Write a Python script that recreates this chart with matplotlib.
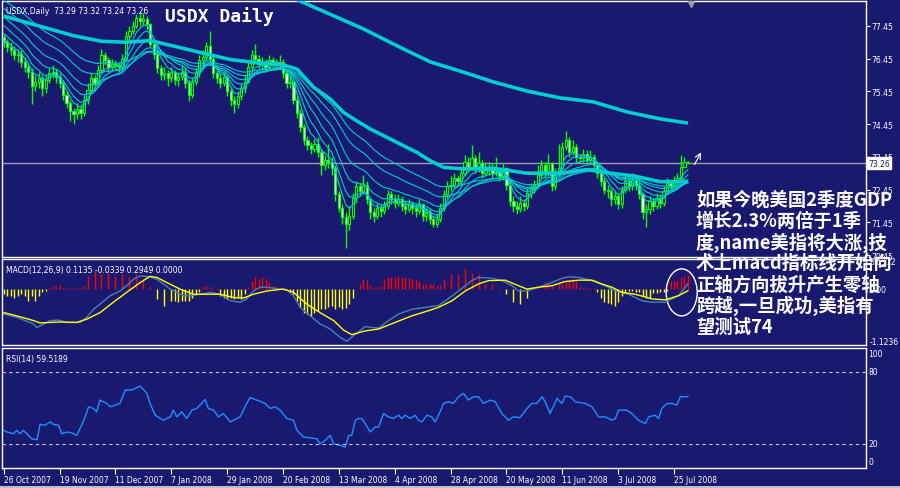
import numpy as np
import matplotlib
matplotlib.use("Agg")
import matplotlib.pyplot as plt
from matplotlib.patches import Ellipse, Rectangle

# ==========================================
# 1. 数据 (USDX 日线, 26 Oct 2007 .. 31 Jul 2008)
# ==========================================
opens = [
    77.10, 76.95, 76.80, 76.70, 76.55, 76.60, 76.35, 76.20, 76.05, 75.60,
    75.75, 75.85, 75.55, 75.80, 76.00, 76.05, 75.90, 75.70, 75.35, 75.10,
    74.85, 74.75, 74.90, 74.80, 75.20, 75.50, 75.85, 75.70, 76.10, 76.55,
    76.40, 76.20, 76.30, 76.25, 76.20, 76.45, 77.15, 77.30, 77.45, 77.70,
    77.60, 77.65, 77.50, 76.90, 76.60, 76.15, 75.95, 76.00, 75.85, 76.05,
    75.80, 75.90, 76.05, 75.70, 75.35, 75.75, 76.00, 76.40, 76.50, 76.85,
    76.45, 76.00, 75.85, 75.70, 75.90, 75.45, 75.20, 75.05, 75.30, 75.55,
    75.75, 76.20, 76.55, 76.45, 76.30, 76.35, 76.20, 76.40, 76.30, 76.25,
    76.35, 76.00, 75.70, 75.75, 75.20, 74.80, 74.35, 73.95, 73.80, 73.70,
    73.85, 73.60, 73.20, 73.35, 73.30, 73.10, 72.30, 71.90, 71.60, 71.40,
    71.65, 72.20, 72.55, 72.40, 72.60, 72.15, 71.75, 71.65, 71.90, 71.80,
    71.95, 72.30, 72.15, 72.05, 72.15, 71.95, 71.85, 72.00, 71.90, 71.80,
    72.00, 71.65, 71.75, 71.55, 71.40, 71.55, 71.90, 72.30, 72.55, 72.60,
    72.80, 72.70, 72.95, 73.30, 73.15, 73.40, 73.10, 73.25, 72.95, 73.05,
    73.15, 72.95, 73.00, 72.85, 73.10, 72.60, 72.10, 71.95, 71.85, 72.05,
    71.95, 72.35, 72.50, 72.60, 72.90, 73.20, 72.95, 73.25, 72.55, 72.95,
    73.10, 73.75, 73.95, 73.60, 73.75, 73.45, 73.40, 73.55, 73.35, 73.45,
    73.20, 72.95, 72.70, 72.45, 72.40, 72.15, 72.25, 72.00, 72.45, 72.70,
    72.55, 72.75, 72.60, 72.30, 71.75, 71.85, 72.10, 71.95, 72.20, 72.05,
    72.40, 72.65, 72.55, 72.70, 72.80, 73.15, 73.29,
]
highs = [
    77.20, 77.05, 76.95, 76.85, 76.75, 76.70, 76.50, 76.30, 76.15, 75.95,
    76.05, 75.95, 75.95, 76.15, 76.25, 76.15, 76.00, 75.80, 75.45, 75.20,
    74.95, 75.10, 75.05, 75.35, 75.70, 76.00, 75.95, 76.25, 76.75, 76.65,
    76.50, 76.45, 76.40, 76.35, 76.60, 77.30, 77.45, 77.60, 77.80, 77.80,
    77.85, 77.75, 77.55, 77.00, 76.70, 76.25, 76.20, 76.10, 76.20, 76.10,
    76.05, 76.25, 76.15, 75.80, 75.90, 76.15, 76.55, 76.70, 76.95, 77.30,
    76.55, 76.10, 76.00, 76.05, 75.95, 75.55, 75.30, 75.45, 75.70, 75.95,
    76.35, 76.70, 76.90, 76.55, 76.50, 76.45, 76.55, 76.50, 76.45, 76.55,
    76.45, 76.10, 75.95, 75.80, 75.30, 74.90, 74.45, 74.10, 73.90, 74.00,
    74.05, 73.70, 73.50, 73.85, 73.45, 73.20, 72.40, 72.00, 71.75, 71.95,
    72.35, 72.70, 72.65, 72.90, 72.70, 72.20, 71.90, 72.05, 72.00, 72.10,
    72.45, 72.40, 72.30, 72.30, 72.25, 72.10, 72.15, 72.10, 72.00, 72.15,
    72.05, 71.90, 71.85, 71.65, 71.70, 72.05, 72.45, 72.70, 72.85, 72.95,
    72.90, 73.10, 73.50, 73.45, 73.80, 73.50, 73.60, 73.35, 73.25, 73.30,
    73.25, 73.45, 73.10, 73.25, 73.15, 72.70, 72.25, 72.10, 72.25, 72.15,
    72.50, 72.65, 72.75, 73.20, 73.35, 73.30, 73.55, 73.30, 73.10, 73.85,
    73.90, 74.25, 74.05, 73.95, 73.85, 73.55, 73.70, 73.65, 73.65, 73.55,
    73.25, 73.00, 72.80, 72.60, 72.50, 72.40, 72.35, 72.55, 72.85, 72.80,
    72.95, 72.85, 72.70, 72.35, 72.00, 72.25, 72.20, 72.35, 72.30, 72.55,
    72.80, 72.75, 72.85, 72.95, 73.50, 73.45, 73.32,
]
lows = [
    76.80, 76.65, 76.55, 76.40, 76.35, 76.20, 76.05, 75.85, 75.05, 75.45,
    75.55, 75.30, 75.40, 75.70, 75.85, 75.70, 75.55, 75.20, 74.95, 74.55,
    74.45, 74.60, 74.60, 74.70, 75.05, 75.40, 75.50, 75.60, 76.00, 76.25,
    76.05, 76.10, 76.10, 76.05, 76.10, 76.40, 77.00, 77.20, 77.40, 77.45,
    77.45, 77.35, 76.80, 76.45, 76.00, 75.80, 75.80, 75.60, 75.75, 75.65,
    75.60, 75.80, 75.55, 75.15, 75.25, 75.65, 75.90, 76.25, 76.40, 76.30,
    75.85, 75.70, 75.55, 75.60, 75.30, 75.00, 74.80, 74.95, 75.20, 75.40,
    75.70, 76.10, 76.30, 76.15, 76.20, 76.05, 76.10, 76.15, 76.10, 76.15,
    75.85, 75.55, 75.55, 75.05, 74.65, 74.20, 73.80, 73.65, 73.55, 73.60,
    73.45, 72.90, 73.05, 73.10, 72.90, 72.10, 71.75, 71.40, 70.65, 71.20,
    71.55, 72.05, 72.25, 72.30, 72.00, 71.55, 71.45, 71.55, 71.60, 71.70,
    71.85, 72.00, 71.90, 71.95, 71.80, 71.70, 71.75, 71.70, 71.60, 71.70,
    71.50, 71.50, 71.40, 71.30, 71.30, 71.45, 71.80, 72.20, 72.40, 72.50,
    72.55, 72.60, 72.85, 73.00, 73.05, 72.95, 73.00, 72.80, 72.85, 72.90,
    72.80, 72.85, 72.70, 72.75, 72.45, 71.95, 71.75, 71.70, 71.75, 71.80,
    71.85, 72.20, 72.35, 72.50, 72.80, 72.80, 72.85, 72.40, 72.45, 72.85,
    73.00, 73.65, 73.45, 73.50, 73.30, 73.25, 73.30, 73.20, 73.25, 73.05,
    72.80, 72.55, 72.30, 72.20, 71.95, 72.00, 71.85, 71.90, 72.35, 72.40,
    72.45, 72.45, 72.15, 71.55, 71.30, 71.70, 71.80, 71.85, 71.90, 71.95,
    72.30, 72.40, 72.50, 72.60, 72.70, 73.10, 73.24,
]
closes = [
    76.95, 76.80, 76.70, 76.55, 76.60, 76.35, 76.20, 76.05, 75.60, 75.75,
    75.85, 75.55, 75.80, 76.00, 76.05, 75.90, 75.70, 75.35, 75.10, 74.85,
    74.75, 74.90, 74.80, 75.20, 75.50, 75.85, 75.70, 76.10, 76.55, 76.40,
    76.20, 76.30, 76.25, 76.20, 76.45, 77.15, 77.30, 77.45, 77.70, 77.60,
    77.65, 77.50, 76.90, 76.60, 76.15, 75.95, 76.00, 75.85, 76.05, 75.80,
    75.90, 76.05, 75.70, 75.35, 75.75, 76.00, 76.40, 76.50, 76.85, 76.45,
    76.00, 75.85, 75.70, 75.90, 75.45, 75.20, 75.05, 75.30, 75.55, 75.75,
    76.20, 76.55, 76.45, 76.30, 76.35, 76.20, 76.40, 76.30, 76.25, 76.35,
    76.00, 75.70, 75.75, 75.20, 74.80, 74.35, 73.95, 73.80, 73.70, 73.85,
    73.60, 73.20, 73.35, 73.30, 73.10, 72.30, 71.90, 71.60, 71.40, 71.65,
    72.20, 72.55, 72.40, 72.60, 72.15, 71.75, 71.65, 71.90, 71.80, 71.95,
    72.30, 72.15, 72.05, 72.15, 71.95, 71.85, 72.00, 71.90, 71.80, 72.00,
    71.65, 71.75, 71.55, 71.40, 71.55, 71.90, 72.30, 72.55, 72.60, 72.80,
    72.70, 72.95, 73.30, 73.15, 73.40, 73.10, 73.25, 72.95, 73.05, 73.15,
    72.95, 73.00, 72.85, 73.10, 72.60, 72.10, 71.95, 71.85, 72.05, 71.95,
    72.35, 72.50, 72.60, 72.90, 73.20, 72.95, 73.25, 72.55, 72.95, 73.10,
    73.75, 73.95, 73.60, 73.75, 73.45, 73.40, 73.55, 73.35, 73.45, 73.20,
    72.95, 72.70, 72.45, 72.40, 72.15, 72.25, 72.00, 72.45, 72.70, 72.55,
    72.75, 72.60, 72.30, 71.75, 71.85, 72.10, 71.95, 72.20, 72.05, 72.40,
    72.65, 72.55, 72.70, 72.80, 73.15, 73.30, 73.26,
]

# 均线带: EMA 周期 + 左侧起点 (从图左缘读出)
ema_periods = [5, 8, 13, 20, 30, 40]
ema_seeds = [77.05, 77.30, 77.55, 77.80, 78.05, 78.30]

# 两条粗均线 (按图取样)
mab_bar = [0, 10, 20, 28, 35, 42, 50, 57, 65, 72, 79, 84, 88.7, 93.5, 97.3, 101.1,
           105.0, 109.7, 114.5, 118.3, 122.2, 126.0, 131.7, 140.3, 149.9, 159.4,
           167.0, 173.7, 180.4, 188.0, 196.0]
mab_val = [77.75, 77.45, 77.15, 76.98, 76.95, 77.00, 76.80, 76.62, 76.42, 76.33,
           76.29, 76.13, 75.58, 75.22, 74.81, 74.55, 74.30, 74.05, 73.79, 73.59,
           73.33, 73.13, 73.08, 73.10, 72.95, 72.95, 73.06, 72.95, 72.87, 72.69, 72.70]
ma200_bar = [80, 85.5, 103.0, 114.4, 122.2, 131.6, 140.2, 149.9, 159.4, 168.8, 178.6, 188.0, 196.0]
ma200_val = [78.44, 78.18, 77.36, 76.75, 76.35, 76.04, 75.74, 75.46, 75.25, 75.13, 74.82, 74.61, 74.48]

last_price = 73.26
price_ticks = [70.45, 71.45, 72.45, 73.45, 74.45, 75.45, 76.45, 77.45]

# MACD(12,26,9)
macd_hist = [
    -0.11, -0.14, -0.14, -0.18, -0.14, -0.11, -0.14, -0.25, -0.14, -0.25,
    -0.14, -0.07, -0.04, 0.02, 0.06, 0.07, 0.09, 0.03, 0.02, 0.02,
    0.02, 0.02, 0.03, 0.06, 0.28, 0, 0.39, 0, 0.32, 0,
    0.35, 0, 0.28, 0, 0.32, 0, 0.25, 0, 0.32, 0,
    0.21, 0, 0.07, 0, -0.21, 0, -0.35, 0, -0.25, -0.25,
    -0.28, -0.25, -0.25, -0.25, -0.18, -0.11, -0.07, 0.07, 0.06, 0.04,
    0.02, 0.02, -0.14, -0.18, -0.21, -0.18, -0.21, -0.18, -0.21, -0.11,
    0.04, 0.18, 0.25, 0.21, 0.25, 0.21, 0.14, 0.07, 0.07, 0.02,
    0.02, 0.02, -0.07, -0.11, -0.25, -0.39, -0.50, -0.53, -0.57, -0.50,
    -0.46, -0.43, -0.43, -0.39, -0.35, -0.43, -0.39, -0.43, -0.40, -0.32,
    -0.18, 0, 0.11, 0.21, 0.19, 0.09, 0.05, 0.04, 0.07, 0.21,
    0.25, 0.26, 0.26, 0.28, 0.25, 0.23, 0.23, 0.21, 0.21, 0.18,
    0.11, 0.11, 0.11, 0.11, 0.07, 0.09, 0.21, 0, 0.32, 0,
    0.32, 0, 0.45, 0, 0.35, 0, 0.33, 0, 0.11, 0,
    0.11, 0, 0.02, 0, -0.11, 0, -0.28, 0, -0.32, 0,
    -0.18, 0, 0.02, 0.02, 0, 0.14, 0.12, 0.07, 0, 0.11,
    0.11, 0.14, 0.19, 0.21, 0.18, 0.04, 0.02, 0.02, 0.02, 0.02,
    -0.07, -0.18, -0.28, -0.30, -0.32, -0.35, -0.28, -0.14, -0.07, -0.05,
    -0.04, -0.07, -0.07, -0.14, -0.18, -0.18, -0.09, -0.09, -0.07, -0.07,
    -0.04, 0.18, 0.18, 0.18, 0.25, 0.28, 0.29,
]
macd_bar = [0, 3.7, 8.5, 9.5, 13.3, 15.7, 18.1, 21.9, 23.8, 25.7,
            27.6, 30.5, 33.3, 35.2, 37.2, 39.1, 41.9, 43.8, 45.7, 47.7,
            49.6, 51.5, 53.9, 56.3, 59.1, 62.0, 64.9, 67.7, 69.6, 71.5,
            73.4, 75.4, 78.2, 81.1, 83.0, 84.9, 87.8, 90.6, 93.5, 96.4,
            98.3, 100.7, 103.5, 107.4, 110.2, 113.1, 116.9, 121.7, 124.5, 126.5,
            130.3, 132.2, 134.1, 136.0, 139.8, 142.7, 145.6, 147.5, 149.9, 153.2,
            157.0, 159.9, 161.8, 164.7, 168.5, 172.3, 175.2, 179.0, 182.8, 185.7,
            189.5, 193.3, 196.0]
macd_val = [-0.53, -0.60, -0.74, -0.82, -0.67, -0.66, -0.71, -0.71, -0.60, -0.43,
            -0.32, -0.14, -0.04, 0.07, 0.21, 0.28, 0.26, 0.21, 0.11, 0.0,
            -0.07, -0.14, -0.14, -0.11, -0.07, -0.11, -0.25, -0.28, -0.21, -0.04,
            0.04, 0.04, 0.01, -0.02, -0.14, -0.39, -0.57, -0.74, -0.85, -1.03,
            -1.11, -0.96, -0.80, -0.83, -0.67, -0.53, -0.43, -0.38, -0.35, -0.25,
            -0.04, 0.07, 0.18, 0.25, 0.23, 0.18, 0.07, -0.04, -0.04, 0.04,
            0.14, 0.23, 0.26, 0.25, 0.18, 0.07, -0.04, -0.11, -0.25, -0.28,
            -0.28, -0.14, 0.1135]
sig_bar = [0, 3.7, 8.5, 10.4, 16.1, 20.9, 23.8, 27.6, 31.4, 35.2,
           39.1, 41.9, 43.8, 46.7, 50.5, 54.3, 58.2, 62.0, 65.8, 68.7,
           71.5, 75.4, 80.1, 83.0, 86.8, 90.6, 94.5, 97.3, 99.7, 103.5,
           107.4, 112.1, 116.9, 121.7, 124.5, 128.4, 132.2, 136.0, 138.9, 143.6,
           147.5, 149.9, 153.2, 157.0, 160.8, 164.7, 168.5, 171.3, 174.2, 177.1,
           180.9, 185.7, 189.5, 193.3, 196.0]
sig_val = [-0.50, -0.57, -0.67, -0.72, -0.70, -0.71, -0.64, -0.50, -0.28, -0.07,
           0.14, 0.27, 0.25, 0.14, 0.0, -0.11, -0.11, -0.11, -0.18, -0.19,
           -0.11, -0.04, 0.0, -0.07, -0.32, -0.50, -0.67, -0.87, -0.97, -0.89,
           -0.85, -0.71, -0.57, -0.46, -0.39, -0.25, -0.04, 0.11, 0.18, 0.19,
           0.07, 0.0, 0.04, 0.07, 0.16, 0.19, 0.19, 0.11, 0.04, -0.07,
           -0.11, -0.21, -0.23, -0.14, -0.0339]

# RSI(14)
rsi_bar = [0, 0.9, 2.8, 3.7, 4.7, 5.6, 6.6, 8.0, 9.5, 9.9,
           10.4, 11.8, 13.3, 14.2, 15.7, 16.6, 18.1, 19.5, 20.9, 22.3,
           23.3, 24.3, 25.7, 26.6, 27.6, 29.5, 30.5, 31.9, 33.3, 34.8,
           36.7, 39.1, 41.0, 41.9, 43.4, 45.7, 47.7, 48.6, 49.6, 51.0,
           52.4, 53.9, 55.3, 57.7, 58.6, 60.1, 61.5, 62.9, 64.9, 66.8,
           67.7, 69.6, 70.6, 72.5, 74.9, 76.3, 77.7, 79.2, 81.1, 83.0,
           84.0, 85.9, 89.7, 90.6, 92.1, 93.5, 94.5, 96.4, 97.8, 98.8,
           99.7, 100.7, 101.6, 102.6, 105.0, 106.4, 107.4, 108.8, 110.2, 111.6,
           113.1, 114.0, 115.0, 116.4, 117.9, 118.8, 119.8, 121.2, 122.6, 123.6,
           125.0, 126.0, 127.4, 128.8, 130.3, 131.7, 133.1, 134.6, 136.0, 137.4,
           139.4, 140.8, 142.7, 144.6, 146.0, 147.9, 149.9, 151.3, 152.7, 154.2,
           155.1, 156.5, 158.5, 159.9, 160.8, 162.3, 163.7, 166.6, 168.5, 170.4,
           172.3, 174.2, 175.2, 176.1, 178.5, 179.9, 181.8, 183.8, 184.7, 186.6,
           187.6, 188.5, 190.0, 191.4, 192.8, 193.8, 195.7, 196.0]
rsi_val = [31.4, 30.0, 28.6, 31.4, 28.6, 31.4, 28.6, 24.4, 23.5, 28.6,
           36.4, 35.6, 38.4, 36.4, 35.6, 28.6, 30.0, 29.1, 27.2, 35.6,
           42.6, 51.0, 49.6, 46.8, 56.6, 53.8, 51.0, 52.4, 53.8, 65.0,
           65.0, 68.3, 62.2, 53.8, 44.0, 39.8, 42.6, 48.2, 42.6, 46.8,
           41.2, 48.2, 49.6, 57.1, 49.6, 48.2, 42.6, 45.4, 38.4, 41.2,
           42.6, 53.8, 58.8, 56.6, 53.8, 49.6, 51.0, 48.2, 41.2, 39.8,
           31.4, 25.8, 24.4, 20.2, 23.0, 27.2, 20.2, 18.8, 17.4, 27.2,
           27.2, 39.8, 41.2, 41.2, 30.0, 34.2, 34.2, 45.4, 42.6, 41.2,
           44.0, 41.2, 44.0, 41.2, 44.0, 39.8, 38.4, 44.0, 42.6, 38.4,
           46.8, 53.8, 55.2, 53.8, 59.4, 62.2, 56.6, 59.4, 59.4, 53.8,
           56.6, 55.2, 45.4, 39.8, 42.6, 42.0, 49.6, 53.8, 53.8, 59.4,
           55.2, 45.4, 58.0, 53.8, 59.9, 59.4, 55.2, 53.8, 51.0, 42.6,
           42.6, 39.8, 41.2, 48.2, 48.2, 45.4, 39.8, 37.0, 42.6, 44.0,
           41.2, 49.6, 53.8, 53.8, 52.4, 59.4, 59.4, 59.5189]

date_ticks = [0, 16, 32, 48, 64, 80, 96, 112, 128, 144, 160, 176, 192]
date_labels = ["26 Oct 2007", "19 Nov 2007", "11 Dec 2007", "7 Jan 2008", "29 Jan 2008",
               "20 Feb 2008", "13 Mar 2008", "4 Apr 2008", "28 Apr 2008", "20 May 2008",
               "11 Jun 2008", "3 Jul 2008", "25 Jul 2008"]

note_lines = [
    "如果今晚美国2季度GDP",
    "增长2.3%两倍于1季",
    "度,name美指将大涨,技",
    "术上macd指标线开始向",
    "正轴方向拔升产生零轴",
    "跨越,一旦成功,美指有",
    "望测试74",
]

# ==========================================
# 2. 画布
# ==========================================
NAVY = "#191970"
CYAN = "#00CED1"
LIME = "#00FF00"
W, H = 900, 489
SMALL = 5.5

fig = plt.figure(figsize=(W / 100, H / 100), dpi=100, facecolor=NAVY)


def add_panel(x0, y0, x1, y1):
    a = fig.add_axes([x0 / W, 1 - y1 / H, (x1 - x0) / W, (y1 - y0) / H])
    a.set_facecolor(NAVY)
    for s in a.spines.values():
        s.set_color("white")
        s.set_linewidth(1)
    a.set_xlim(-0.5, 247)
    a.set_xticks([])
    a.set_yticks([])
    return a


def ema(values, period, seed):
    k = 2.0 / (period + 1)
    out, prev = [], seed
    for v in values:
        prev = prev + k * (v - prev)
        out.append(prev)
    return out


ax = add_panel(2, 2, 866, 258)
ax_m = add_panel(2, 260, 866, 346)
ax_r = add_panel(2, 349, 866, 469)

# ---- 主图: K线 + 均线带 ----
x = np.arange(len(closes))
o, h, l, c = map(np.array, (opens, highs, lows, closes))
ax.axhline(last_price, color="#9c9cb4", lw=1, zorder=1)
ax.vlines(x, l, h, color=LIME, lw=1, zorder=2)
body_colors = ["white" if cc < oo else NAVY for oo, cc in zip(o, c)]
ax.bar(x, np.abs(c - o), bottom=np.minimum(o, c), width=0.62,
       color=body_colors, edgecolor=LIME, linewidth=0.8, zorder=3)

for period, seed in zip(ema_periods, ema_seeds):
    ax.plot(x, ema(closes, period, seed), color=CYAN, lw=0.8, zorder=4)
ax.plot(mab_bar, mab_val, color=CYAN, lw=2.6, zorder=4, solid_capstyle="butt")
ax.plot(ma200_bar, ma200_val, color=CYAN, lw=2.6, zorder=4, solid_capstyle="butt")

ax.set_ylim(70.39, 78.21)
ax.yaxis.tick_right()
ax.set_yticks(price_ticks)
ax.set_yticklabels([f"{v:.2f}" for v in price_ticks])
ax.tick_params(axis="y", colors="white", labelsize=SMALL, length=3, width=0.8, pad=1)
ax.text(1.003, last_price, f"{last_price:.2f}", transform=ax.get_yaxis_transform(),
        fontsize=SMALL, color=NAVY, va="center", ha="left", clip_on=False, zorder=6,
        bbox=dict(boxstyle="square,pad=0.15", fc="white", ec="white"))
ax.plot([197], [78.12], marker="v", color="#a0a0a0", ms=4, zorder=5)
ax.annotate("", xy=(200.1, 73.66), xytext=(197.5, 73.14), annotation_clip=False,
            arrowprops=dict(arrowstyle="->", color="white", lw=0.8))

# ---- MACD ----
hist = np.array(macd_hist)
keep = hist != 0
hist_colors = np.array(["#FF0000" if v > 0 else "#FFFF00" for v in hist])
ax_m.vlines(x[keep], 0, hist[keep], colors=hist_colors[keep], lw=1)
ax_m.plot(macd_bar, macd_val, color="#4682B4", lw=1)
ax_m.plot(sig_bar, sig_val, color="#FFFF00", lw=1)
ax_m.set_ylim(-1.19, 0.64)
ax_m.add_patch(Ellipse((194.2, -0.07), 8.9, 1.0, fill=False, ec="white", lw=1, clip_on=False))
tr_m = ax_m.get_yaxis_transform()
for val, txt in [(0.58, "0.6372"), (0.0, "0.00"), (-1.1236, "-1.1236")]:
    ax_m.text(1.004, val, txt, transform=tr_m, fontsize=SMALL, color="white",
              va="center", ha="left", clip_on=False)

# ---- RSI ----
ax_r.plot(rsi_bar, rsi_val, color="#1E90FF", lw=1)
for lvl in (80, 20):
    ax_r.axhline(lvl, color="#c8c8c8", lw=0.8, ls=(0, (3, 3)))
ax_r.set_ylim(0, 100)
tr_r = ax_r.get_yaxis_transform()
for val, txt in [(95, "100"), (80, "80"), (20, "20"), (5, "0")]:
    ax_r.text(1.003, val, txt, transform=tr_r, fontsize=SMALL, color="white",
              va="center", ha="left", clip_on=False)
ax_r.set_xticks(date_ticks)
ax_r.set_xticklabels(date_labels, ha="left")
ax_r.tick_params(axis="x", colors="white", labelsize=SMALL, length=4, width=0.8, pad=1)

# ---- 文字 ----
fig.text(6 / W, 1 - 11 / H, "USDX,Daily  73.29 73.32 73.24 73.26", fontsize=SMALL,
         color="white", va="center")
fig.text(6 / W, 1 - 271 / H, "MACD(12,26,9) 0.1135 -0.0339 0.2949 0.0000", fontsize=SMALL,
         color="white", va="center")
fig.text(6 / W, 1 - 360 / H, "RSI(14) 59.5189", fontsize=SMALL, color="white", va="center")
fig.text(165 / W, 1 - 17 / H, "USDX Daily", fontsize=13, family="DejaVu Sans Mono",
         weight="bold", color="white", va="center")

for i, line in enumerate(note_lines):
    fig.text(696 / W, 1 - (200 + 21.2 * i) / H, line, fontsize=13.2, color="white",
             weight="bold", family=["Noto Sans CJK SC", "DejaVu Sans"], va="center")

fig.patches.append(Rectangle((0, 0), 1, 2.5 / H, transform=fig.transFigure,
                             fc="#c0c0c0", ec="none"))

fig.savefig("out.png", dpi=100, facecolor=NAVY)
